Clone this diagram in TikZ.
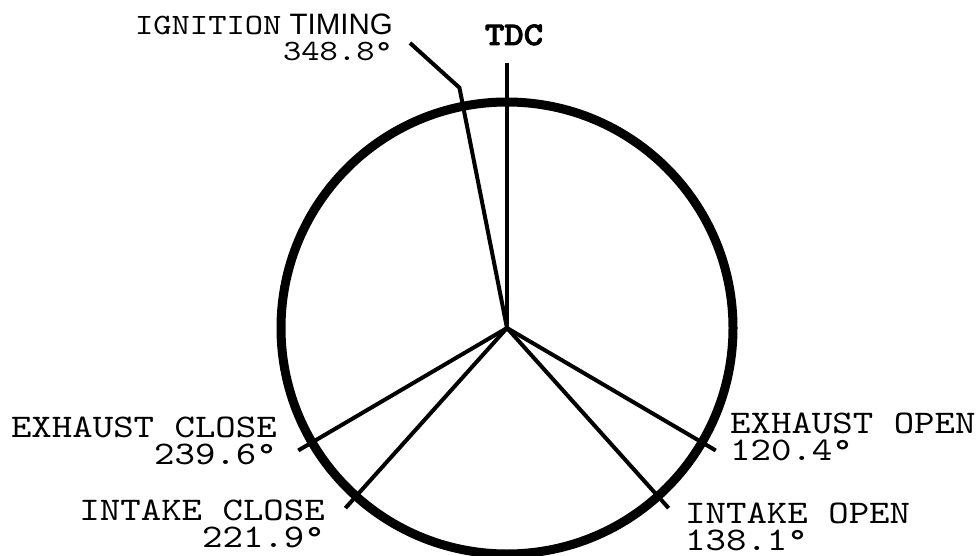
\documentclass[tikz,border=0pt]{standalone}
\usepackage{fontspec}
\usepackage{tikz}
\usetikzlibrary{positioning}
\newfontfamily\valvefont{lmmono10-regular.otf}[FakeStretch=1.18]
\newfontfamily\tdcfont{lmmonolt10-bold.otf}[FakeStretch=1.12, FakeBold=2.5]
\newfontfamily\timingfont{Liberation Sans}

\begin{document}
\begin{tikzpicture}[
  x=1pt, y=1pt,
  ring/.style={line width=9pt},
  spoke/.style={line width=4pt},
  angletext/.style={font=\valvefont\fontsize{33}{27}\selectfont, inner sep=0pt},
  igntext/.style={font=\valvefont\fontsize{29.5}{26}\selectfont, inner sep=0pt},
  tdctext/.style={font=\tdcfont\fontsize{33}{33}\selectfont, inner sep=0pt},
]
\useasboundingbox (0,0) rectangle (979,555);

% crank circle
\coordinate (c) at (507,227);
\draw[ring] (c) circle (226);

% spoke ends
\coordinate (tdc) at (507,492);
\coordinate (eo) at ([shift={(-30.4:242)}]c);
\coordinate (io) at ([shift={(-48.1:242)}]c);
\coordinate (ec) at ([shift={(-149.6:242)}]c);
\coordinate (ic) at ([shift={(-131.9:242)}]c);
\coordinate (igbend) at ([shift={(101.2:245)}]c);
\coordinate (igend) at (410,512);

\draw[spoke] (c) -- (tdc);
\draw[spoke] (c) -- (eo);
\draw[spoke] (c) -- (io);
\draw[spoke] (c) -- (ec);
\draw[spoke] (c) -- (ic);
\draw[spoke] (c) -- (igbend) -- (igend);

\node[tdctext, anchor=base] (tdclbl) at (514,510) {TDC};

\node[angletext, align=left, anchor=north west] (eolbl) at (730,142)
  {EXHAUST OPEN\\120.4°};
\node[angletext, align=left, anchor=north west] (iolbl) at (685,52)
  {INTAKE OPEN\\138.1°};
\node[angletext, align=right, anchor=north east] (eclbl) at (277,138)
  {EXHAUST CLOSE\\239.6°};
\node[angletext, align=right, anchor=north east] (iclbl) at (325,55)
  {INTAKE CLOSE\\221.9°};
\node[igntext, align=right, anchor=north east] (iglbl) at (393,541)
  {IGNITION{\timingfont\ TIMING}\\348.8°};

\end{tikzpicture}
\end{document}
